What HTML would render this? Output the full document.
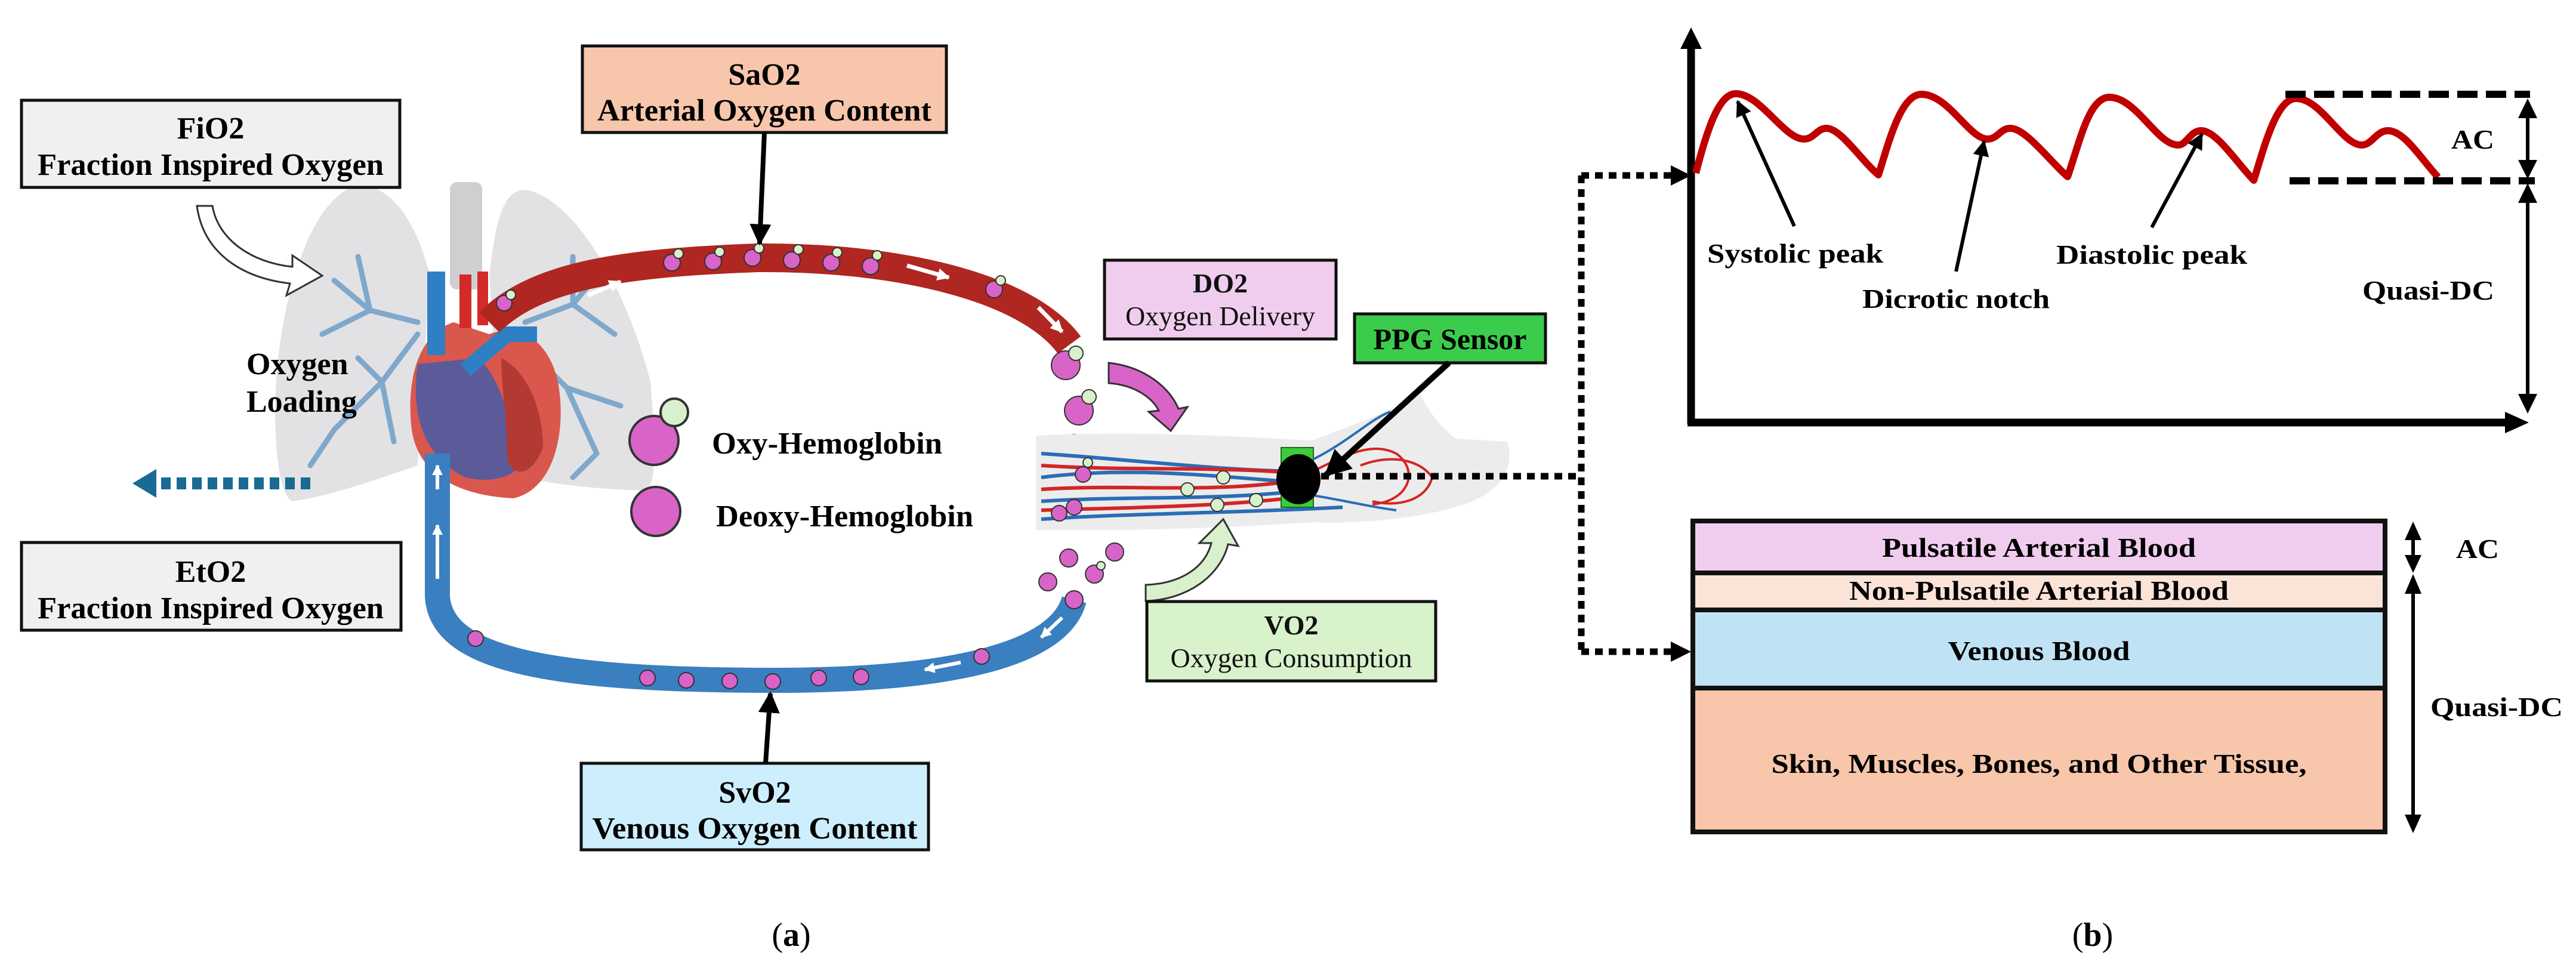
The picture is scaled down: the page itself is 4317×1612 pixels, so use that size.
<!DOCTYPE html>
<html><head><meta charset="utf-8"><style>
html,body{margin:0;padding:0;background:#fff;}
svg{display:block;}
text{font-family:"Liberation Serif",serif;}
</style></head><body>
<svg xmlns="http://www.w3.org/2000/svg" width="4317" height="1612" viewBox="0 0 4317 1612">
<defs>
<marker id="ah" viewBox="0 0 10 10" refX="9" refY="5" markerWidth="4.5" markerHeight="4.5" orient="auto-start-reverse" markerUnits="strokeWidth"><path d="M0,0 L10,5 L0,10 z" fill="#000"/></marker>
<marker id="ahw" viewBox="0 0 10 10" refX="9" refY="5" markerWidth="3" markerHeight="3" orient="auto" markerUnits="strokeWidth"><path d="M0,0 L10,5 L0,10 z" fill="#fff"/></marker>
</defs>

<!-- Lungs -->
<path d="M600,310 C520,330 470,500 462,650 C458,760 470,830 490,840 C560,830 640,800 700,780 L720,460 C700,380 660,310 600,310 Z" fill="#e2e2e4"/>
<path d="M880,318 C960,330 1050,480 1090,640 C1100,760 1100,815 1080,822 C1000,820 900,810 840,790 L820,460 C830,380 840,318 880,318 Z" fill="#e2e2e4"/>
<rect x="754" y="305" width="54" height="180" rx="12" fill="#cfcfd2"/>
<g stroke="#7fa8cc" stroke-width="9" fill="none" stroke-linecap="round">
<path d="M700,540 L620,520 L560,470 M620,520 L540,560 M620,520 L600,430 M700,560 L640,640 L560,720 M640,640 L600,600 M640,640 L660,740 M560,720 L520,780"/>
<path d="M880,540 L960,510 L1010,450 M960,510 L1030,560 M960,510 L960,430 M880,580 L950,650 L1000,760 M950,650 L1040,680 M1000,760 L960,800"/>
</g>
<!-- Heart -->
<path d="M760,540 C700,560 680,640 690,720 C700,790 760,830 860,835 C930,820 950,720 935,640 C920,570 870,540 820,560 Z" fill="#d9574d"/>
<path d="M700,610 C690,680 700,760 780,800 C820,810 860,800 870,780 C860,700 830,620 800,600 Z" fill="#5b5b9a"/>
<path d="M840,600 C880,620 910,680 910,750 C890,800 860,800 850,770 C850,700 840,650 840,600 Z" fill="#b23a33"/>
<rect x="716" y="455" width="30" height="140" fill="#2f7fc4"/>
<rect x="770" y="460" width="20" height="90" fill="#d52a2a"/>
<rect x="800" y="455" width="18" height="90" fill="#d52a2a"/>
<path d="M780,620 L850,560 L900,560" stroke="#2f7fc4" stroke-width="26" fill="none"/>
<!-- Arterial arc -->
<path d="M820,540 C900,460 1050,440 1270,432 C1500,430 1720,480 1792,578" stroke="#b02620" stroke-width="48" fill="none"/>
<g stroke="#fff" stroke-width="7" fill="none"><path d="M985,495 L1040,472" marker-end="url(#ahw)"/><path d="M1520,445 L1590,465" marker-end="url(#ahw)"/><path d="M1740,515 L1780,556" marker-end="url(#ahw)"/></g>
<!-- Venous path -->
<path d="M733,760 L733,1000 C740,1100 900,1140 1297,1140 C1650,1140 1780,1080 1800,1005" stroke="#3a7fc0" stroke-width="42" fill="none"/>
<g stroke="#fff" stroke-width="6" fill="none"><path d="M733,970 L733,880" marker-end="url(#ahw)"/><path d="M733,820 L733,780" marker-end="url(#ahw)"/><path d="M1000,1100 L930,1078" marker-end="url(#ahw)"/><path d="M1610,1110 L1550,1122" marker-end="url(#ahw)"/><path d="M1780,1035 L1745,1068" marker-end="url(#ahw)"/></g>

<!-- particles -->
<g fill="#d864c8" stroke="#333" stroke-width="2">
<circle cx="1126" cy="440" r="14"/><circle cx="1195" cy="438" r="14"/><circle cx="1261" cy="432" r="14"/><circle cx="1327" cy="436" r="14"/><circle cx="1393" cy="440" r="14"/><circle cx="1459" cy="446" r="14"/><circle cx="1666" cy="485" r="14"/><circle cx="845" cy="508" r="13"/>
<circle cx="1786" cy="612" r="24"/><circle cx="1808" cy="688" r="24"/><circle cx="1786" cy="764" r="24"/>
<circle cx="797" cy="1070" r="13"/><circle cx="1085" cy="1136" r="13"/><circle cx="1150" cy="1140" r="13"/><circle cx="1223" cy="1141" r="13"/><circle cx="1295" cy="1142" r="13"/><circle cx="1372" cy="1136" r="13"/><circle cx="1443" cy="1134" r="13"/><circle cx="1645" cy="1100" r="13"/>
<circle cx="1791" cy="935" r="15"/><circle cx="1868" cy="925" r="15"/><circle cx="1834" cy="962" r="15"/><circle cx="1756" cy="975" r="15"/><circle cx="1800" cy="1005" r="15"/>
<circle cx="1096" cy="738" r="41" stroke-width="4"/><circle cx="1099" cy="857" r="41" stroke-width="4"/>
</g>
<g fill="#d8f0cc" stroke="#333" stroke-width="2">
<circle cx="1137" cy="425" r="8"/><circle cx="1206" cy="422" r="8"/><circle cx="1272" cy="416" r="8"/><circle cx="1338" cy="418" r="8"/><circle cx="1403" cy="423" r="8"/><circle cx="1470" cy="428" r="8"/><circle cx="1677" cy="470" r="8"/><circle cx="856" cy="494" r="8"/>
<circle cx="1803" cy="592" r="12"/><circle cx="1825" cy="665" r="12"/><circle cx="1800" cy="740" r="12"/><circle cx="1845" cy="948" r="7"/>
<circle cx="1130" cy="691" r="23" stroke-width="4"/>
</g>

<!-- Arm -->
<path d="M1736,730 C1900,722 2050,730 2200,738 C2300,700 2350,680 2380,660 C2400,700 2420,720 2440,735 L2525,740 C2535,760 2530,800 2500,820 C2460,860 2300,880 2200,875 C2050,885 1900,890 1736,888 Z" fill="#ececec"/>
<g fill="none" stroke-width="6">
<path d="M1745,760 C1900,770 2050,790 2200,790 M1745,800 C1900,780 2050,800 2200,810 M1745,840 C1900,830 2050,840 2200,820 M1745,870 C1900,860 2060,860 2250,850" stroke="#2a6db5"/>
<path d="M1745,780 C1900,790 2050,780 2200,795 M1745,820 C1900,810 2050,830 2200,800 M1745,855 C1900,850 2050,850 2200,830" stroke="#d42525"/>
<path d="M2200,790 C2260,760 2300,740 2340,760 C2380,790 2360,840 2300,845 M2280,780 C2330,760 2380,770 2400,800 C2390,840 2340,850 2300,840" stroke="#d42525" stroke-width="4"/>
<path d="M2200,770 C2260,740 2300,700 2330,690 M2200,830 C2260,840 2300,850 2340,855" stroke="#2a6db5" stroke-width="4"/>
</g>
<g fill="#d864c8" stroke="#333" stroke-width="2"><circle cx="1815" cy="795" r="13"/><circle cx="1800" cy="850" r="13"/><circle cx="1775" cy="860" r="13"/></g>
<g fill="#d8f0cc" stroke="#333" stroke-width="2"><circle cx="1990" cy="820" r="11"/><circle cx="2050" cy="800" r="11"/><circle cx="2040" cy="846" r="11"/><circle cx="2105" cy="838" r="11"/><circle cx="1823" cy="775" r="8"/></g>
<rect x="2147" y="750" width="54" height="100" fill="#3ccc3c" stroke="#1a6a1a" stroke-width="2"/>
<ellipse cx="2176" cy="803" rx="37" ry="42" fill="#000"/>

<!-- curved arrows -->
<path d="M1858,608 C1920,615 1960,650 1975,685 L1990,682 L1962,722 L1925,690 L1942,688 C1930,665 1900,645 1858,642 Z" fill="#d864c8" stroke="#333" stroke-width="3"/>
<path d="M1920,980 C1980,978 2020,950 2030,910 L2010,910 L2050,870 L2075,915 L2058,912 C2045,965 1990,1005 1920,1007 Z" fill="#d8f0cc" stroke="#333" stroke-width="3"/>
<path d="M330,345 L356,345 C365,400 420,440 490,447 L490,428 L540,462 L480,495 L486,475 C400,465 340,420 330,345 Z" fill="#fff" stroke="#333" stroke-width="3"/>

<!-- dashed blue arrow -->
<line x1="520" y1="810" x2="252" y2="810" stroke="#1a6a94" stroke-width="20" stroke-dasharray="16,10"/>
<path d="M262,786 L222,810 L262,834 Z" fill="#1a6a94"/>

<!-- Boxes -->
<g stroke="#111" stroke-width="5">
<rect x="36" y="168" width="634" height="146" fill="#f0f0f0"/>
<rect x="976" y="77" width="610" height="145" fill="#f7c6ab"/>
<rect x="36" y="909" width="636" height="147" fill="#f0f0f0"/>
<rect x="974" y="1279" width="582" height="145" fill="#cdeefc"/>
<rect x="1851" y="436" width="388" height="132" fill="#f0cdee"/>
<rect x="2270" y="526" width="320" height="82" fill="#3ccc4c"/>
<rect x="1922" y="1008" width="484" height="133" fill="#d8f2cc"/>
</g>
<g font-size="52" font-weight="bold" text-anchor="middle" fill="#000">
<text x="353" y="232">FiO2</text>
<text x="353" y="293" textLength="580" lengthAdjust="spacingAndGlyphs">Fraction Inspired Oxygen</text>
<text x="1281" y="142">SaO2</text>
<text x="1281" y="202" textLength="560" lengthAdjust="spacingAndGlyphs">Arterial Oxygen Content</text>
<text x="353" y="975">EtO2</text>
<text x="353" y="1036" textLength="580" lengthAdjust="spacingAndGlyphs">Fraction Inspired Oxygen</text>
<text x="1265" y="1345">SvO2</text>
<text x="1265" y="1405" textLength="545" lengthAdjust="spacingAndGlyphs">Venous Oxygen Content</text>
<text x="413" y="627" text-anchor="start">Oxygen</text>
<text x="413" y="690" text-anchor="start">Loading</text>
<text x="1193" y="760" text-anchor="start" textLength="386" lengthAdjust="spacingAndGlyphs">Oxy-Hemoglobin</text>
<text x="1200" y="882" text-anchor="start" textLength="431" lengthAdjust="spacingAndGlyphs">Deoxy-Hemoglobin</text>
</g>
<g font-size="46" text-anchor="middle" fill="#111">
<text x="2045" y="490" font-weight="bold">DO2</text>
<text x="2045" y="545">Oxygen Delivery</text>
<text x="2164" y="1063" font-weight="bold">VO2</text>
<text x="2164" y="1118">Oxygen Consumption</text>
<text x="2430" y="585" font-weight="bold" font-size="50" fill="#000">PPG Sensor</text>
</g>

<!-- black arrows -->
<line x1="1281" y1="222" x2="1273" y2="408" stroke="#000" stroke-width="8" marker-end="url(#ah)"/>
<line x1="1283" y1="1279" x2="1291" y2="1162" stroke="#000" stroke-width="8" marker-end="url(#ah)"/>
<line x1="2428" y1="608" x2="2222" y2="796" stroke="#000" stroke-width="10" marker-end="url(#ah)"/>

<!-- dotted connectors -->
<g stroke="#000" stroke-width="11" stroke-dasharray="13,10" fill="none">
<path d="M2214,798 L2650,798"/>
<path d="M2650,294 L2650,1092"/>
<path d="M2650,294 L2800,294"/>
<path d="M2650,1092 L2800,1092"/>
</g>
<path d="M2800,277 L2834,294 L2800,311 Z" fill="#000"/>
<path d="M2800,1075 L2834,1092 L2800,1109 Z" fill="#000"/>

<!-- (b) chart -->
<line x1="2834" y1="710" x2="2834" y2="80" stroke="#000" stroke-width="13"/>
<path d="M2816,82 L2834,46 L2852,82 Z" fill="#000"/>
<line x1="2828" y1="708" x2="4200" y2="708" stroke="#000" stroke-width="13"/>
<path d="M4198,690 L4238,708 L4198,726 Z" fill="#000"/>
<path d="M2842,290 C2860,220 2880,157 2909,157 C2950,157 2990,233 3023,233 C3040,233 3045,215 3061,215 C3085,215 3120,270 3148,293 C3165,240 3185,158 3220,158 C3265,158 3300,233 3331,233 C3348,233 3352,215 3369,215 C3395,215 3435,270 3465,296 C3485,240 3500,163 3535,163 C3580,163 3615,243 3650,243 C3665,243 3670,219 3689,219 C3715,219 3750,275 3777,302 C3795,245 3815,165 3848,165 C3890,165 3925,243 3958,243 C3975,243 3982,219 4002,219 C4030,219 4060,270 4086,297" stroke="#c00000" stroke-width="12" fill="none" stroke-linejoin="round"/>
<g stroke="#000" stroke-width="12" stroke-dasharray="34,14"><line x1="3830" y1="158" x2="4240" y2="158"/><line x1="3837" y1="303" x2="4248" y2="303"/></g>
<line x1="4236" y1="195" x2="4236" y2="270" stroke="#000" stroke-width="6"/>
<path d="M4220,198 L4236,165 L4252,198 Z M4220,268 L4236,300 L4252,268 Z" fill="#000"/>
<line x1="4236" y1="340" x2="4236" y2="660" stroke="#000" stroke-width="6"/>
<path d="M4220,340 L4236,307 L4252,340 Z M4220,660 L4236,693 L4252,660 Z" fill="#000"/>
<g stroke="#000" stroke-width="6">
<line x1="3007" y1="379" x2="2912" y2="170" marker-end="url(#ah)"/>
<line x1="3278" y1="455" x2="3325" y2="237" marker-end="url(#ah)"/>
<line x1="3606" y1="381" x2="3690" y2="225" marker-end="url(#ah)"/>
</g>
<g font-size="46" font-weight="bold" fill="#000">
<text x="2861" y="440" textLength="295" lengthAdjust="spacingAndGlyphs">Systolic peak</text>
<text x="3121" y="516" textLength="314" lengthAdjust="spacingAndGlyphs">Dicrotic notch</text>
<text x="3446" y="442" textLength="320" lengthAdjust="spacingAndGlyphs">Diastolic peak</text>
<text x="4108" y="249" textLength="72" lengthAdjust="spacingAndGlyphs">AC</text>
<text x="3959" y="502" textLength="221" lengthAdjust="spacingAndGlyphs">Quasi-DC</text>
</g>

<!-- layers box -->
<rect x="2837" y="873" width="1160" height="87" fill="#f0cdee"/>
<rect x="2837" y="960" width="1160" height="62" fill="#fce3d8"/>
<rect x="2837" y="1022" width="1160" height="131" fill="#bfe3f4"/>
<rect x="2837" y="1153" width="1160" height="241" fill="#f7c6ab"/>
<g stroke="#111" stroke-width="8" fill="none">
<rect x="2837" y="873" width="1160" height="521"/>
<line x1="2837" y1="960" x2="3997" y2="960"/><line x1="2837" y1="1022" x2="3997" y2="1022"/><line x1="2837" y1="1153" x2="3997" y2="1153"/>
</g>
<g font-size="46" font-weight="bold" text-anchor="middle" fill="#000">
<text x="3417" y="933" textLength="526" lengthAdjust="spacingAndGlyphs">Pulsatile Arterial Blood</text>
<text x="3417" y="1005" textLength="636" lengthAdjust="spacingAndGlyphs">Non-Pulsatile Arterial Blood</text>
<text x="3417" y="1106" textLength="305" lengthAdjust="spacingAndGlyphs">Venous Blood</text>
<text x="3417" y="1295" textLength="897" lengthAdjust="spacingAndGlyphs">Skin, Muscles, Bones, and Other Tissue,</text>
</g>
<line x1="4044" y1="905" x2="4044" y2="930" stroke="#000" stroke-width="6"/>
<path d="M4030,905 L4044,874 L4058,905 Z M4030,930 L4044,960 L4058,930 Z" fill="#000"/>
<line x1="4044" y1="995" x2="4044" y2="1365" stroke="#000" stroke-width="6"/>
<path d="M4030,995 L4044,962 L4058,995 Z M4030,1365 L4044,1396 L4058,1365 Z" fill="#000"/>
<g font-size="46" font-weight="bold" fill="#000">
<text x="4116" y="935" textLength="72" lengthAdjust="spacingAndGlyphs">AC</text>
<text x="4073" y="1200" textLength="222" lengthAdjust="spacingAndGlyphs">Quasi-DC</text>
</g>

<!-- captions -->
<g font-size="56" text-anchor="middle" fill="#000">
<text x="1326" y="1585">(<tspan font-weight="bold">a</tspan>)</text>
<text x="3507" y="1585">(<tspan font-weight="bold">b</tspan>)</text>
</g>
</svg>
</body></html>
